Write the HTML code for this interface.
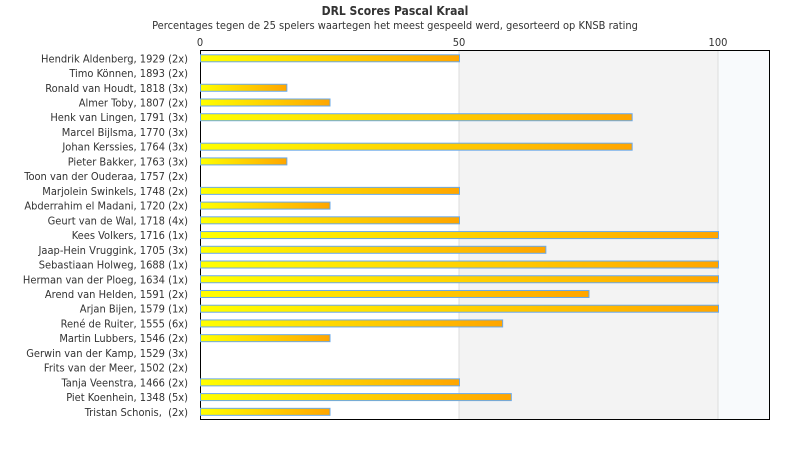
<!DOCTYPE html><html><head><style>body{margin:0;background:#fff}svg{display:block}text{font-family:"DejaVu Sans Condensed","DejaVu Sans",sans-serif;fill:#333}</style></head><body>
<svg width="790" height="450" xmlns="http://www.w3.org/2000/svg">
<defs><linearGradient id="g" x1="0" x2="1" y1="0" y2="0"><stop offset="0" stop-color="#ffff00"/><stop offset="1" stop-color="#ffa500"/></linearGradient></defs>
<text x="395" y="15" text-anchor="middle" font-size="12" font-weight="bold">DRL Scores Pascal Kraal</text>
<text x="395" y="29" text-anchor="middle" font-size="11">Percentages tegen de 25 spelers waartegen het meest gespeeld werd, gesorteerd op KNSB rating</text>
<rect x="459" y="50" width="259" height="370" fill="#f3f3f3"/>
<rect x="718" y="50" width="52" height="370" fill="#f8fafc"/>
<line x1="459" y1="50" x2="459" y2="420" stroke="#ddd"/>
<line x1="718" y1="50" x2="718" y2="420" stroke="#ddd"/>
<rect x="200.5" y="50.5" width="569" height="369" fill="none" stroke="#000"/>
<text x="200" y="46" text-anchor="middle" font-size="11">0</text>
<text x="459" y="46" text-anchor="middle" font-size="11">50</text>
<text x="718" y="46" text-anchor="middle" font-size="11">100</text>
<g id="rows" font-size="11" text-anchor="end"></g>
</svg>
<script>
var d=[["Hendrik Aldenberg, 1929 (2x)",50],["Timo Können, 1893 (2x)",0],["Ronald van Houdt, 1818 (3x)",16.67],["Almer Toby, 1807 (2x)",25],["Henk van Lingen, 1791 (3x)",83.33],["Marcel Bijlsma, 1770 (3x)",0],["Johan Kerssies, 1764 (3x)",83.33],["Pieter Bakker, 1763 (3x)",16.67],["Toon van der Ouderaa, 1757 (2x)",0],["Marjolein Swinkels, 1748 (2x)",50],["Abderrahim el Madani, 1720 (2x)",25],["Geurt van de Wal, 1718 (4x)",50],["Kees Volkers, 1716 (1x)",100],["Jaap-Hein Vruggink, 1705 (3x)",66.67],["Sebastiaan Holweg, 1688 (1x)",100],["Herman van der Ploeg, 1634 (1x)",100],["Arend van Helden, 1591 (2x)",75],["Arjan Bijen, 1579 (1x)",100],["René de Ruiter, 1555 (6x)",58.33],["Martin Lubbers, 1546 (2x)",25],["Gerwin van der Kamp, 1529 (3x)",0],["Frits van der Meer, 1502 (2x)",0],["Tanja Veenstra, 1466 (2x)",50],["Piet Koenhein, 1348 (5x)",60],["Tristan Schonis,  (2x)",25]];
var s="";
d.forEach(function(r,i){var c=58.3+i*14.73;
s+='<text x="188" y="'+(c+4)+'" xml:space="preserve">'+r[0]+'</text>';
if(r[1]>0)s+='<rect x="200.5" y="'+(c-3.5)+'" width="'+(r[1]*5.18)+'" height="7" fill="url(#g)" stroke="#6aa9e9" stroke-width="1"/>';});
document.getElementById("rows").innerHTML=s;
</script>
</body></html>
